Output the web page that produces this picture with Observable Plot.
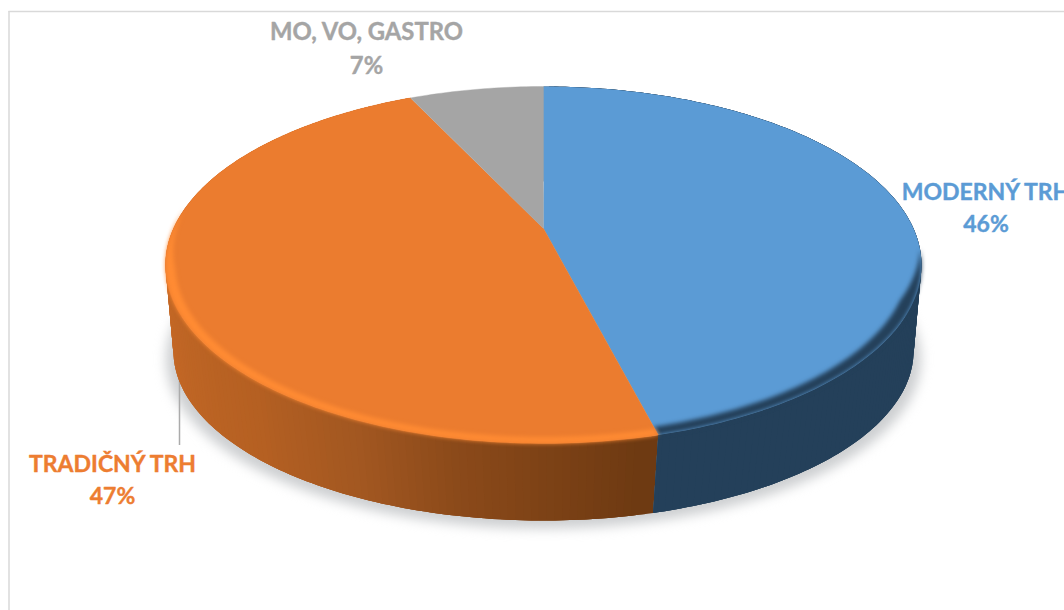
<!DOCTYPE html>
<html><head><meta charset="utf-8">
<script src="https://cdn.jsdelivr.net/npm/d3@7"></script>
<script src="https://cdn.jsdelivr.net/npm/@observablehq/plot@0.6"></script>
<style>html,body{margin:0;padding:0;background:#fff;overflow:hidden}svg{display:block}</style>
</head><body><div id="chart"></div>
<script>
const categories = ["MODERNÝ TRH", "TRADIČNÝ TRH", "MO, VO, GASTRO"];
const values = [46, 47, 7];
const faceColors = ["#5B9BD5", "#EB7C2F", "#A5A5A5"];
const labelColors = ["#5B9BD5", "#ED7D31", "#A5A5A5"];
const bevelColors = ["#24405A", "#FF8B33", null];
const labelX = [985.5, 112, 366];
const labelY = [205, 477, 46];
const labelSizes = [23, 23, 23.8];

// Orange wall shading, running from the front seam round to the left edge
const wallStops = [0.46, 0.525, 0.56, 0.608, 0.70, 0.75];
const wallShades = ["#6E3A12", "#8C4A1A", "#A25721", "#B56022", "#C46826", "#CB6C27"];
const blueWall = "#24405A";

// Perspective view of the disc
const view = {cx: 543, cy: 228, f: 370, g: 171, k: 0.2045};
const floor = {cx: 543, cy: 320, f: 364, g: 164, k: 0.18};
const TAU = 2 * Math.PI;
const project = (v, a, r = 1) => {
  const X = r * Math.sin(a * TAU), Y = -r * Math.cos(a * TAU), d = 1 - v.k * Y;
  return {x: v.cx + v.f * X / d, y: v.cy + v.g * Y / d};
};
const frac = (lo, hi) => d3.range(lo, hi, 1 / 360).concat([hi]);
const total = d3.sum(values);
const starts = d3.cumsum([0, ...values]).map(d => d / total);
const clamp01 = t => Math.min(1, Math.max(0, t));
const insets = [
  a => 0.032 * clamp01((-Math.cos(a * TAU) - 0.12) / 0.28),
  a => 0.024 * clamp01((-Math.cos(a * TAU) + 0.12) / 0.35)
];

const slice = (i, id) => [project(view, 0, 0), ...frac(starts[i], starts[i + 1]).map(a => project(view, a))]
  .map(p => ({...p, id}));
const ring = (i, id) => {
  const as = frac(starts[i], starts[i + 1]);
  return [...as.map(a => project(view, a)), ...as.slice().reverse().map(a => project(view, a, 1 - insets[i](a)))]
    .map(p => ({...p, id}));
};
const shade = d3.scaleLinear().domain(wallStops).range(wallShades).clamp(true);
const wallRows = [];
// Overlapping bands round each wall, so no gaps show and the silhouette stays straight
for (const [i, col] of [[1, a => shade(a)], [0, () => blueWall]]) {
  const as = frac(starts[i], starts[i + 1]);
  for (let j = as.length - 2; j >= 0; j--) {
    const id = `w${i}-${j}`, color = col(as[j]);
    const span = as.slice(j, Math.min(as.length, j + 4));
    [...span.map(a => project(view, a)), ...span.slice().reverse().map(a => project(floor, a))]
      .forEach(p => wallRows.push({...p, id, color}));
  }
}
const shadowRows = frac(0, 1).map(a => {
  const p = project(floor, a);
  return {x: 543 + (p.x - 543) * 1.02, y: p.y + 8, id: "shadow"};
});
const labels = categories.map((c, i) => ({text: `${c}\n${values[i]}%`, x: labelX[i], y: labelY[i], color: labelColors[i], size: labelSizes[i]}));

const poly = (rows, fill, extra = {}) => Plot.line(rows, {x: "x", y: "y", z: "id", fill, stroke: "none", ...extra});

const plot = Plot.plot({
  width: 1064, height: 610,
  margin: 0,
  x: {domain: [0, 1064], range: [0, 1064], axis: null},
  y: {domain: [0, 610], range: [0, 610], axis: null},
  color: {type: "identity"},
  style: {background: "#fff", overflow: "hidden"},
  marks: [
    Plot.ruleY([11], {x1: 8.5, x2: 1064, stroke: "#D9D9D9", strokeWidth: 1.5}),
    Plot.ruleX([8.5], {y1: 11, y2: 610, stroke: "#D9D9D9", strokeWidth: 1.5}),
    poly(shadowRows, "#CDCFD1", {imageFilter: "blur(6px)"}),
    Plot.ruleX([179], {y1: 371, y2: 445, stroke: "#ABABAB", strokeWidth: 1.5}),
    Plot.line(wallRows, {x: "x", y: "y", z: "id", fill: "color", stroke: "none"}),
    poly(slice(0, "s0"), faceColors[0]),
    poly(ring(0, "r0"), bevelColors[0], {imageFilter: "blur(2.2px)"}),
    poly(slice(1, "s1"), faceColors[1], {stroke: faceColors[1], strokeWidth: 0.4}),
    poly(ring(1, "r1"), bevelColors[1], {imageFilter: "blur(2px)"}),
    poly(slice(2, "s2"), faceColors[2], {stroke: faceColors[2], strokeWidth: 0.4}),
    Plot.text(labels, {x: "x", y: "y", text: "text", fill: "color", stroke: "color", strokeWidth: 0.4, lineHeight: 1.43, fontSize: "size", fontWeight: 700, fontFamily: "Lato", textAnchor: "middle"})
  ]
});
document.getElementById("chart").append(plot);
</script></body></html>
